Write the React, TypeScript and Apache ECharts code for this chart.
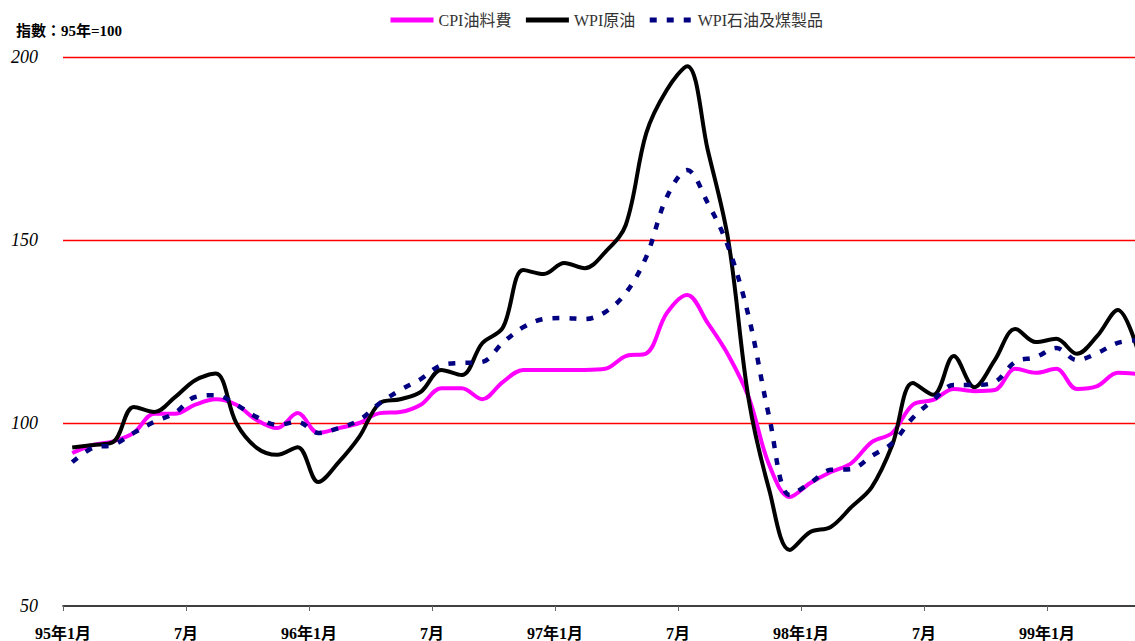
import React, { useEffect, useRef } from "react";
import * as echarts from "echarts";

const tickLabels = ["95年1月", "7月", "96年1月", "7月", "97年1月", "7月", "98年1月", "7月", "99年1月"];

const cpiFuel = [
  91.8, 94.0, 95.0, 97.3, 102.5, 102.5, 105.0, 106.5, 105.0, 100.8, 98.6, 102.7,
  97.3, 98.6, 100.0, 102.7, 103.0, 105.0, 109.5, 109.5, 106.5, 111.2, 114.5, 114.5,
  114.5, 114.5, 114.8, 118.3, 119.0, 130.0, 135.0, 127.3, 118.6, 107.0, 88.5, 79.8,
  83.6, 86.6, 89.0, 94.8, 97.3, 105.0, 106.3, 109.3, 108.7, 109.0, 114.8, 113.7,
  114.8, 109.3, 110.1, 113.7, 113.4,
];

const wpiCrude = [
  93.3, 94.0, 94.8, 104.4, 103.0, 107.0, 111.7, 113.5, 100.0, 93.2, 91.3, 93.4,
  83.9, 89.3, 96.2, 105.4, 106.5, 108.5, 114.5, 113.1, 121.8, 126.0, 141.8, 140.7,
  143.7, 142.3, 146.7, 154.1, 179.2, 191.0, 197.5, 174.6, 150.0, 106.3, 81.7, 65.3,
  70.2, 71.6, 77.0, 82.5, 94.0, 110.9, 107.7, 118.3, 109.8, 117.2, 125.7, 122.1,
  123.0, 118.9, 123.8, 130.9, 119.4,
];

const wpiPetro = [
  89.3, 93.2, 94.0, 97.3, 100.3, 102.7, 107.1, 107.6, 105.0, 101.6, 99.5, 100.3,
  97.3, 98.6, 100.8, 105.4, 109.0, 112.0, 115.8, 116.4, 116.7, 121.9, 126.2, 128.4,
  128.7, 128.4, 130.3, 135.5, 145.4, 161.7, 169.1, 160.1, 148.1, 129.0, 101.6, 80.3,
  83.6, 87.2, 87.4, 91.0, 94.5, 101.4, 106.3, 110.4, 110.4, 111.2, 116.7, 118.0,
  120.5, 117.2, 119.1, 121.9, 122.7,
];

const seriesNames = ["CPI油料費", "WPI原油", "WPI石油及煤製品"];
const MID_MONTH = 0.45;

const toPoints = (arr: number[]) => arr.map((v, i) => [i + MID_MONTH, v]);

const serif = "'Liberation Serif', 'Times New Roman', 'Noto Sans CJK TC', serif";

export default function App() {
  const ref = useRef<HTMLDivElement>(null);
  useEffect(() => {
    if (!ref.current) return;
    const chart = echarts.init(ref.current, undefined, { renderer: "svg" });
    chart.setOption({
      animation: false,
      backgroundColor: "#ffffff",
      title: {
        text: "指數：95年=100",
        left: 11,
        top: 18,
        textStyle: { fontSize: 15, fontWeight: "bold", color: "#000", fontFamily: serif },
      },
      legend: {
        top: 7,
        left: 383,
        itemWidth: 43,
        itemHeight: 14,
        itemGap: 12,
        itemStyle: { opacity: 0 },
        lineStyle: { width: 5 },
        textStyle: { fontSize: 16, color: "#333", fontFamily: serif },
        data: seriesNames,
      },
      grid: { left: 63, right: 0, top: 57, bottom: 35 },
      xAxis: {
        type: "value",
        min: 0,
        max: 52.29,
        interval: 6,
        axisLine: { show: true, lineStyle: { color: "#000", width: 1.5 } },
        axisTick: { show: true, length: 5, lineStyle: { color: "#666" } },
        splitLine: { show: false },
        axisLabel: {
          margin: 19,
          showMaxLabel: false,
          fontSize: 16,
          fontWeight: "bold",
          color: "#000",
          fontFamily: serif,
          formatter: (v: number) => {
            const k = Math.round(v / 6);
            if (Math.abs(v - k * 6) > 0.01) return "";
            return tickLabels[k] ?? "";
          },
        },
      },
      yAxis: {
        type: "value",
        min: 50,
        max: 200,
        interval: 50,
        axisLine: { show: false },
        axisTick: { show: false },
        splitLine: { show: true, showMinLine: false, lineStyle: { color: "#ff0000", width: 1.3 } },
        axisLabel: {
          margin: 25,
          fontSize: 18,
          fontStyle: "italic",
          color: "#000",
          fontFamily: serif,
        },
      },
      series: [
        {
          name: seriesNames[0],
          type: "line",
          data: toPoints(cpiFuel),
          smooth: 0.35,
          symbol: "none",
          lineStyle: { color: "#ff00ff", width: 4 },
          itemStyle: { color: "#ff00ff" },
          z: 3,
        },
        {
          name: seriesNames[1],
          type: "line",
          data: toPoints(wpiCrude),
          smooth: 0.35,
          symbol: "none",
          lineStyle: { color: "#000000", width: 4 },
          itemStyle: { color: "#000000" },
          z: 4,
        },
        {
          name: seriesNames[2],
          type: "line",
          data: toPoints(wpiPetro),
          smooth: 0.35,
          symbol: "none",
          lineStyle: { color: "#000080", width: 4.5, type: [7, 10] },
          itemStyle: { color: "#000080" },
          z: 5,
        },
      ],
    });
    return () => chart.dispose();
  }, []);
  return (
    <div
      ref={ref}
      style={{ position: "fixed", left: 0, top: 0, width: 1135, height: 641, background: "#fff" }}
    />
  );
}
